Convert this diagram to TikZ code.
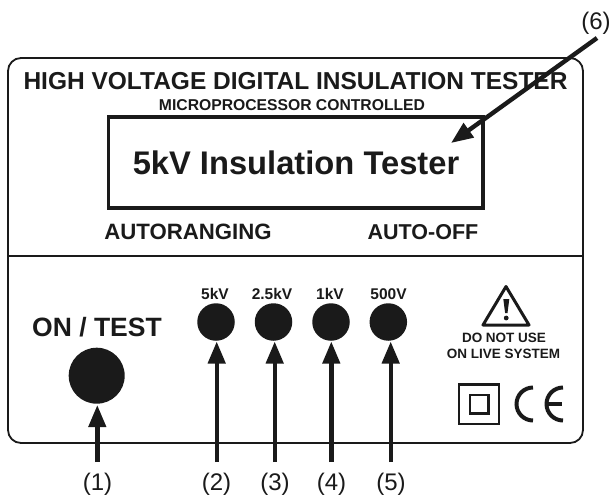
\documentclass[tikz,border=0pt]{standalone}
\usepackage{fontspec}
\setmainfont{Liberation Sans}
\usetikzlibrary{arrows.meta}
\definecolor{ink}{HTML}{1A1A1A}
\tikzset{
  txt/.style={inner sep=0pt,text=ink,font=\bfseries\fontsize{#1}{#1}\selectfont},
  volt/.style={txt=15.5,anchor=base},
  num/.style={inner sep=0pt,text=ink,font=\fontsize{24}{24}\selectfont},
  bigbtn/.style={circle,fill=ink,minimum size=56pt,inner sep=0pt},
  smallbtn/.style={circle,fill=ink,minimum size=37.5pt,inner sep=0pt},
  pointer/.style={draw=ink,line width=4.4pt,-{Triangle[length=22pt,width=17pt]}},
  panel/.style={draw=ink,line width=1.8pt},
  markline/.style={draw=ink,line width=4pt},
}
\begin{document}
\begin{tikzpicture}[x=1pt,y=-1pt]
\useasboundingbox (0,0) rectangle (612,498);
\draw[panel,rounded corners=13pt] (8,58) rectangle (583,443);
\draw[panel] (8,256) -- (583,256);
\draw[draw=ink,line width=3.2pt] (108.5,117) rectangle (483,208);
\node[txt=24.5] (title) at (295.5,81) {HIGH VOLTAGE DIGITAL INSULATION TESTER};
\node[txt=15.7] (micro) at (292,105) {MICROPROCESSOR CONTROLLED};
\node[txt=32.7] (disp) at (296,163) {5kV Insulation Tester};
\node[txt=22.2] (auto) at (188,232) {AUTORANGING};
\node[txt=21.5] (off) at (423,232) {AUTO-OFF};
\node[txt=26.5] (ontest) at (97,327) {ON / TEST};
\node[bigbtn] (b1) at (96.7,375.7) {};
\node[smallbtn] (b2) at (216,322) {};
\node[smallbtn] (b3) at (273.5,322) {};
\node[smallbtn] (b4) at (331,322) {};
\node[smallbtn] (b5) at (388.3,322) {};
\node[volt] (l2) at (215,299) {5kV};
\node[volt] (l3) at (272,299) {2.5kV};
\node[volt] (l4) at (330,299) {1kV};
\node[volt] (l5) at (388.5,299) {500V};
\node[num] (n1) at (97.5,484) {(1)};
\node[num] (n2) at (216.5,484) {(2)};
\node[num] (n3) at (275,484) {(3)};
\node[num] (n4) at (331.5,484) {(4)};
\node[num] (n5) at (391,484) {(5)};
\node[num] (n6) at (596,23) {(6)};
\coordinate (t1) at (97.3,462);
\coordinate (t2) at (216.7,462);
\coordinate (t3) at (274.7,462);
\coordinate (t4) at (331.3,462);
\coordinate (t5) at (390.7,462);
\coordinate (t6) at (597,38);
\coordinate (h1) at (97.3,405);
\coordinate (h2) at (216.7,341.5);
\coordinate (h3) at (274.7,341.5);
\coordinate (h4) at (331.3,341.5);
\coordinate (h5) at (390.7,341.5);
\coordinate (h6) at (451,143);
\draw[pointer] (t1) -- (h1);
\draw[pointer] (t2) -- (h2);
\draw[pointer] (t3) -- (h3);
\draw[pointer] (t4) -- (h4);
\draw[pointer] (t5) -- (h5);
\draw[pointer] (t6) -- (h6);
% warning triangle
\draw[draw=ink,line width=3pt,line join=round] (506,286.5) -- (529,325) -- (483,325) -- cycle;
\fill[ink] (503.3,299) -- (509.3,299) -- (507.5,313) -- (505.1,313) -- cycle;
\fill[ink] (506.2,318) circle (2.4pt);
\node[txt=13.5] (w1) at (504,338) {DO NOT USE};
\node[txt=13.5] (w2) at (503.5,353.5) {ON LIVE SYSTEM};
% double insulation
\draw[draw=ink,line width=2.4pt] (459,384.5) rectangle (499,424);
\draw[draw=ink,line width=2.4pt] (470,395) rectangle (488.5,413.5);
% CE
\draw[markline] (533,387.5) arc[start angle=90,end angle=270,radius=16.5pt];
\draw[markline] (563,387.5) arc[start angle=90,end angle=270,radius=16.5pt];
\draw[markline] (547,404) -- (562,404);
\end{tikzpicture}
\end{document}
